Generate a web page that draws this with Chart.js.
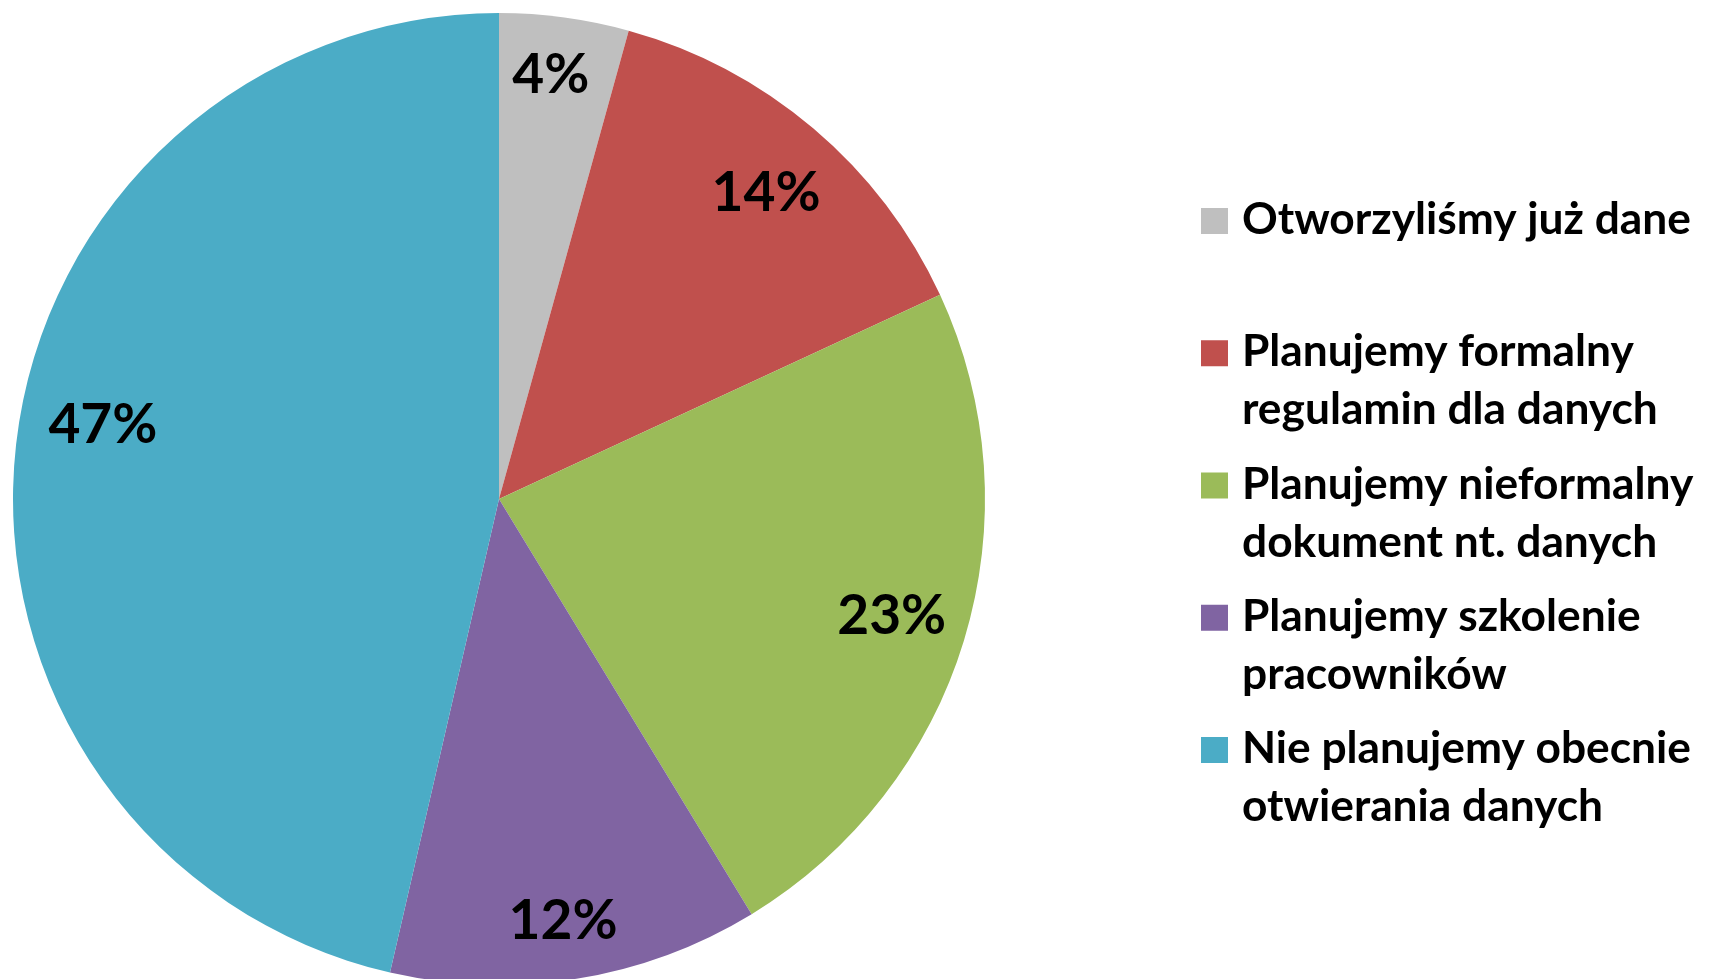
<!DOCTYPE html>
<html>
<head>
<meta charset="utf-8">
<script src="https://cdn.jsdelivr.net/npm/chart.js@4.4.0/dist/chart.umd.min.js"></script>
<style>
html,body{margin:0;padding:0;background:#fff;overflow:hidden;width:1710px;height:979px;}
#wrap{position:absolute;left:0;top:0;width:1710px;height:1000px;}
</style>
</head>
<body>
<div id="wrap"><canvas id="c" width="1710" height="1000"></canvas></div>
<script>
// ---- data ----
const categories = [
  ['Otworzyliśmy już dane'],
  ['Planujemy formalny', 'regulamin dla danych'],
  ['Planujemy nieformalny', 'dokument nt. danych'],
  ['Planujemy szkolenie', 'pracowników'],
  ['Nie planujemy obecnie', 'otwierania danych']
];
const shares = [4.3, 13.8, 23.2, 12.3, 46.4];
const shareLabels = ['4%', '14%', '23%', '12%', '47%'];
const sliceColors = ['#BFBFBF', '#C0504D', '#9BBB59', '#8064A2', '#4BACC6'];

// ---- label placement style (fraction of radius, angle shift in degrees) ----
const labelRadius = [0.883, 0.839, 0.842, 0.874, 0.830];
const labelAngleShift = [-0.8, 0.6, -0.6, 0.5, 4.4];

const FONT = 'Lato, "Open Sans", sans-serif';
const WEIGHT = 'bold';

function fitSize(ctx, text, target, weight) {
  ctx.font = weight + ' 100px ' + FONT;
  return 100 * target / ctx.measureText(text).width;
}

const pctLabels = {
  id: 'pctLabels',
  afterDatasetsDraw(chart) {
    const ctx = chart.ctx;
    const meta = chart.getDatasetMeta(0);
    const size = fitSize(ctx, '47%', 109, WEIGHT);
    ctx.save();
    ctx.font = WEIGHT + ' ' + size + 'px ' + FONT;
    ctx.fillStyle = '#000';
    ctx.textAlign = 'center';
    ctx.textBaseline = 'alphabetic';
    meta.data.forEach((arc, i) => {
      const p = arc.getProps(['x', 'y', 'startAngle', 'endAngle', 'outerRadius'], true);
      const mid = (p.startAngle + p.endAngle) / 2 + labelAngleShift[i] * Math.PI / 180;
      const r = p.outerRadius * labelRadius[i];
      const cx = p.x + Math.cos(mid) * r;
      const cy = p.y + Math.sin(mid) * r;
      const txt = shareLabels[i];
      const m = ctx.measureText(txt);
      const h = m.actualBoundingBoxAscent;
      ctx.fillText(txt, cx, cy + h / 2);
    });
    ctx.restore();
  }
};

const sideLegend = {
  id: 'sideLegend',
  afterDraw(chart) {
    const ctx = chart.ctx;
    const size = fitSize(ctx, 'Otworzyliśmy już dane', 449, WEIGHT);
    const boxX = 1201, boxW = 27, boxH = 26;
    const textX = 1242;
    const firstBase = 234, itemStep = 132.25, lineStep = 58;
    ctx.save();
    ctx.font = WEIGHT + ' ' + size + 'px ' + FONT;
    ctx.textAlign = 'left';
    ctx.textBaseline = 'alphabetic';
    chart.data.labels.forEach((lines, i) => {
      const base = firstBase + i * itemStep;
      ctx.fillStyle = chart.data.datasets[0].backgroundColor[i];
      ctx.fillRect(boxX, base - boxH, boxW, boxH);
      ctx.fillStyle = '#000';
      lines.forEach((ln, j) => ctx.fillText(ln, textX, base + j * lineStep));
    });
    ctx.restore();
  }
};

function build() {
  new Chart(document.getElementById('c'), {
    type: 'pie',
    data: {
      labels: categories,
      datasets: [{
        data: shares,
        backgroundColor: sliceColors,
        borderWidth: 0,
        hoverOffset: 0
      }]
    },
    options: {
      responsive: false,
      devicePixelRatio: 1,
      animation: false,
      layout: { padding: { left: 13, top: 13, right: 725, bottom: 15 } },
      plugins: {
        legend: { display: false },
        tooltip: { enabled: false }
      }
    },
    plugins: [pctLabels, sideLegend]
  });
}

if (document.fonts && document.fonts.load) {
  Promise.all([document.fonts.load(WEIGHT + ' 40px Lato')]).then(build, build);
} else {
  build();
}
</script>
</body>
</html>
